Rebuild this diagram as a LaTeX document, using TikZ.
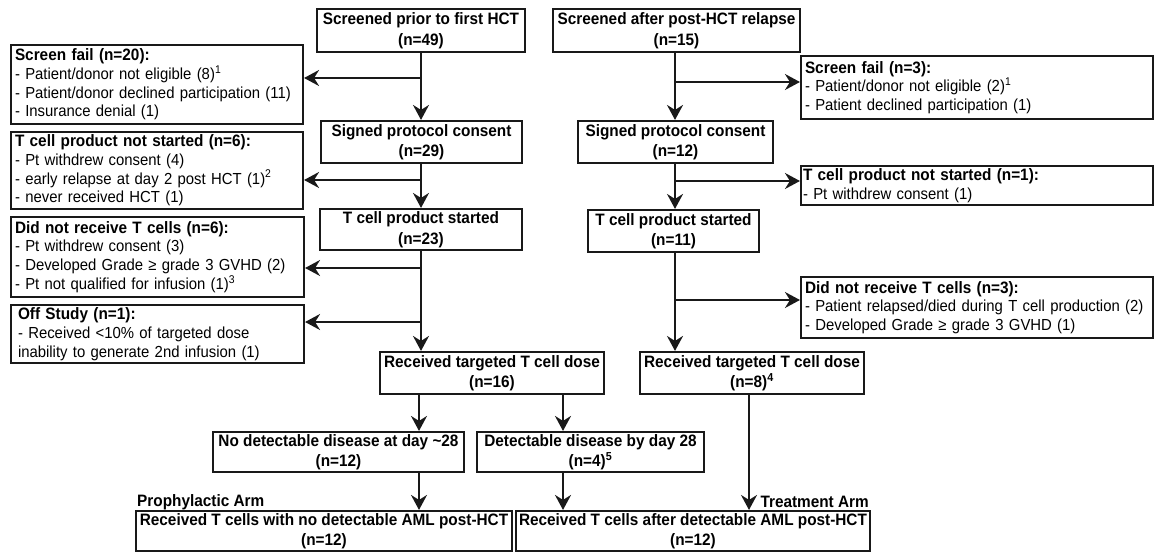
\documentclass[tikz,border=0pt]{standalone}
\usepackage{fontspec}
\setmainfont{Liberation Sans}[FakeStretch=0.93]
\usetikzlibrary{arrows.meta,calc}
\begin{document}
\begin{tikzpicture}[x=1pt,y=-1pt,
  box/.style={draw=black!90, line width=2.1pt, inner sep=0pt, align=center,
    font=\bfseries\fontsize{16.5}{20.5}\selectfont},
  sbox/.style={draw=black!90, line width=2.1pt, inner xsep=4pt, inner ysep=0pt, align=left,
    font=\fontsize{16}{18.7}\selectfont},
  lab/.style={inner sep=0pt, font=\bfseries\fontsize{16.5}{20}\selectfont},
  arr/.style={draw=black!90, line width=2.1pt, -{Stealth[length=15pt,width=16pt,inset=5pt]}},
  ln/.style={draw=black!90, line width=2.1pt}]
\useasboundingbox (0,0) rectangle (1155,553);
\newcommand{\hd}[1]{{\bfseries\fontsize{16.5}{18.7}\selectfont #1}}

% main boxes
\node[box, minimum width=208, minimum height=43] (s1) at (421,30.5) {Screened prior to first HCT\\(n=49)};
\node[box, minimum width=247, minimum height=43] (s2) at (676.5,30.5) {Screened after post-HCT relapse\\(n=15)};
\node[box, minimum width=201, minimum height=42] (c1) at (421.5,142) {Signed protocol consent\\(n=29)};
\node[box, minimum width=195, minimum height=42] (c2) at (675.5,142) {Signed protocol consent\\(n=12)};
\node[box, minimum width=202, minimum height=41] (p1) at (421,229.5) {T cell product started\\(n=23)};
\node[box, minimum width=171, minimum height=42] (p2) at (673.5,231) {T cell product started\\(n=11)};
\node[box, minimum width=224, minimum height=42] (r1) at (492,373) {Received targeted T cell dose\\(n=16)};
\node[box, minimum width=224, minimum height=42] (r2) at (752,373) {Received targeted T cell dose\\(n=8)\textsuperscript{4}};
\node[box, minimum width=251, minimum height=40] (nd) at (338.5,452) {No detectable disease at day \textasciitilde 28\\(n=12)};
\node[box, minimum width=227, minimum height=40] (dd) at (590.5,452) {Detectable disease by day 28\\(n=4)\textsuperscript{5}};
\node[box, minimum width=376, minimum height=40] (b1) at (324,531) {Received T cells with no detectable AML post-HCT\\(n=12)};
\node[box, minimum width=354, minimum height=40] (b2) at (693,531) {Received T cells after detectable AML post-HCT\\(n=12)};

% side boxes
\node[sbox, text width=284, minimum height=79] (f1) at (157,84.5) {\hd{Screen fail (n=20):}\\- Patient/donor not eligible (8)\textsuperscript{1}\\- Patient/donor declined participation (11)\\- Insurance denial (1)};
\node[sbox, text width=284, minimum height=77] (n1) at (157,170.5) {\hd{T cell product not started (n=6):}\\- Pt withdrew consent (4)\\- early relapse at day 2 post HCT (1)\textsuperscript{2}\\- never received HCT (1)};
\node[sbox, text width=285, minimum height=80] (d1) at (157.5,257) {\hd{Did not receive T cells (n=6):}\\- Pt withdrew consent (3)\\- Developed Grade ≥ grade 3 GVHD (2)\\- Pt not qualified for infusion (1)\textsuperscript{3}};
\node[sbox, inner xsep=7pt, text width=279, minimum height=58] (o1) at (157.5,334) {\hd{Off Study (n=1):}\\- Received <10\% of targeted dose\\inability to generate 2nd infusion (1)};
\node[sbox, text width=344, minimum height=63] (f2) at (977,87.5) {\hd{Screen fail (n=3):}\\- Patient/donor not eligible (2)\textsuperscript{1}\\- Patient declined participation (1)};
\node[sbox, inner xsep=2pt, text width=348, minimum height=39] (n2) at (977,185.5) {\hd{T cell product not started (n=1):}\\- Pt withdrew consent (1)};
\node[sbox, text width=344, minimum height=61] (d2) at (977,307.5) {\hd{Did not receive T cells (n=3):}\\- Patient relapsed/died during T cell production (2)\\- Developed Grade ≥ grade 3 GVHD (1)};

% arm labels
\node[lab, anchor=west] (pa) at (137,502) {Prophylactic Arm};
\node[lab, anchor=east] (ta) at (869,502) {Treatment Arm};

% helper coordinates
\coordinate (xl) at (421,0);
\coordinate (xr) at (675,0);
\coordinate (xa) at (419,0);
\coordinate (xb) at (563,0);
\coordinate (xc) at (749,0);
\coordinate (j1) at (421,78);
\coordinate (j2) at (675,82);
\coordinate (j3) at (421,180);
\coordinate (j4) at (675,181);
\coordinate (j5) at (421,268);
\coordinate (j6) at (421,322);
\coordinate (j7) at (675,300);

% left trunk
\draw[arr] (s1.south -| xl) -- (c1.north -| xl);
\draw[arr] (j1) -- (j1 -| f1.east);
\draw[arr] (c1.south -| xl) -- (p1.north -| xl);
\draw[arr] (j3) -- (j3 -| n1.east);
\draw[arr] (p1.south -| xl) -- (r1.north -| xl);
\draw[arr] (j5) -- (j5 -| d1.east);
\draw[arr] (j6) -- (j6 -| o1.east);

% right trunk
\draw[arr] (s2.south -| xr) -- (c2.north -| xr);
\draw[arr] (j2) -- (j2 -| f2.west);
\draw[arr] (c2.south -| xr) -- (p2.north -| xr);
\draw[arr] (j4) -- (j4 -| n2.west);
\draw[arr] (p2.south -| xr) -- (r2.north -| xr);
\draw[arr] (j7) -- (j7 -| d2.west);

% lower part
\draw[arr] (r1.south -| xa) -- (nd.north -| xa);
\draw[arr] (r1.south -| xb) -- (dd.north -| xb);
\draw[arr] (nd.south -| xa) -- (b1.north -| xa);
\draw[arr] (dd.south -| xb) -- (b2.north -| xb);
\draw[arr] (r2.south -| xc) -- (b2.north -| xc);
\end{tikzpicture}
\end{document}
